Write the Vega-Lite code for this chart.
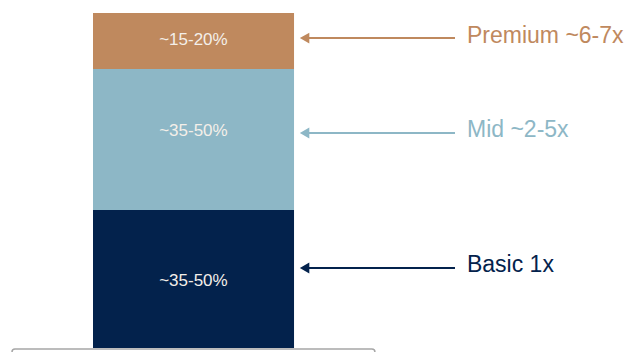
{
  "$schema": "https://vega.github.io/schema/vega-lite/v6.json",
  "autosize": {"type": "fit", "contains": "padding"},
  "width": 628,
  "height": 352,
  "padding": 0,
  "background": "white",
  "config": {"view": {"stroke": null}, "font": "Liberation Sans"},
  "datasets": {
    "segments": [
      {"tier": "Basic", "start": 0, "end": 41.2, "share": "~35-50%", "labelY": 20.0, "bx0": 14.81, "bx1": 46.82},
      {"tier": "Mid", "start": 41.2, "end": 83.3, "share": "~35-50%", "labelY": 64.8, "bx0": 14.81, "bx1": 46.82},
      {"tier": "Premium", "start": 83.3, "end": 100, "share": "~15-20%", "labelY": 91.9, "bx0": 14.81, "bx1": 46.82}
    ],
    "annotations": [
      {"tier": "Premium", "text": "Premium ~6-7x", "arrowY": 92.5, "textY": 93.1, "tip": 48.5, "tail": 72.45, "tx": 74.36},
      {"tier": "Mid", "text": "Mid ~2-5x", "arrowY": 64.2, "textY": 65.1, "tip": 48.5, "tail": 72.45, "tx": 74.36},
      {"tier": "Basic", "text": "Basic 1x", "arrowY": 23.9, "textY": 24.8, "tip": 48.5, "tail": 72.45, "tx": 74.36}
    ],
    "frame": [
      {"x0": 1.91, "x1": 59.7, "y0": -6, "y1": -0.3}
    ]
  },
  "layer": [
    {
      "data": {"name": "frame"},
      "mark": {"type": "rect", "fill": null, "stroke": "#A6A6A6", "strokeWidth": 1.5, "cornerRadius": 3, "clip": true},
      "encoding": {
        "x": {"field": "x0", "type": "quantitative", "scale": {"domain": [0, 100], "nice": false, "zero": false}, "axis": null},
        "x2": {"field": "x1"},
        "y": {"field": "y0", "type": "quantitative", "scale": {"domain": [-1.19, 103.88], "nice": false, "zero": false}, "axis": null},
        "y2": {"field": "y1"}
      }
    },
    {
      "data": {"name": "segments"},
      "mark": {"type": "rect"},
      "encoding": {
        "x": {"field": "bx0", "type": "quantitative"},
        "x2": {"field": "bx1"},
        "y": {"field": "start", "type": "quantitative"},
        "y2": {"field": "end"},
        "color": {"field": "tier", "type": "nominal", "legend": null,
          "scale": {"domain": ["Basic", "Mid", "Premium"], "range": ["#03224C", "#8DB7C6", "#BF895E"]}}
      }
    },
    {
      "data": {"name": "segments"},
      "mark": {"type": "text", "fontSize": 17, "color": "#F4EFE9", "align": "center", "baseline": "middle"},
      "encoding": {
        "x": {"datum": 30.8, "type": "quantitative"},
        "y": {"field": "labelY", "type": "quantitative"},
        "text": {"field": "share"}
      }
    },
    {
      "data": {"name": "annotations"},
      "mark": {"type": "rule", "strokeWidth": 2},
      "encoding": {
        "x": {"field": "tip", "type": "quantitative"},
        "x2": {"field": "tail"},
        "y": {"field": "arrowY", "type": "quantitative"},
        "color": {"field": "tier", "type": "nominal", "legend": null}
      }
    },
    {
      "data": {"name": "annotations"},
      "mark": {"type": "point", "shape": "triangle-left", "filled": true, "size": 120, "opacity": 1},
      "encoding": {
        "x": {"field": "tip", "type": "quantitative"},
        "y": {"field": "arrowY", "type": "quantitative"},
        "color": {"field": "tier", "type": "nominal", "legend": null}
      }
    },
    {
      "data": {"name": "annotations"},
      "mark": {"type": "text", "fontSize": 23, "align": "left", "baseline": "middle"},
      "encoding": {
        "x": {"field": "tx", "type": "quantitative"},
        "y": {"field": "textY", "type": "quantitative"},
        "text": {"field": "text"},
        "color": {"field": "tier", "type": "nominal", "legend": null,
          "scale": {"domain": ["Basic", "Mid", "Premium"], "range": ["#0A2654", "#8DB7C6", "#BF895E"]}}
      }
    }
  ]
}
